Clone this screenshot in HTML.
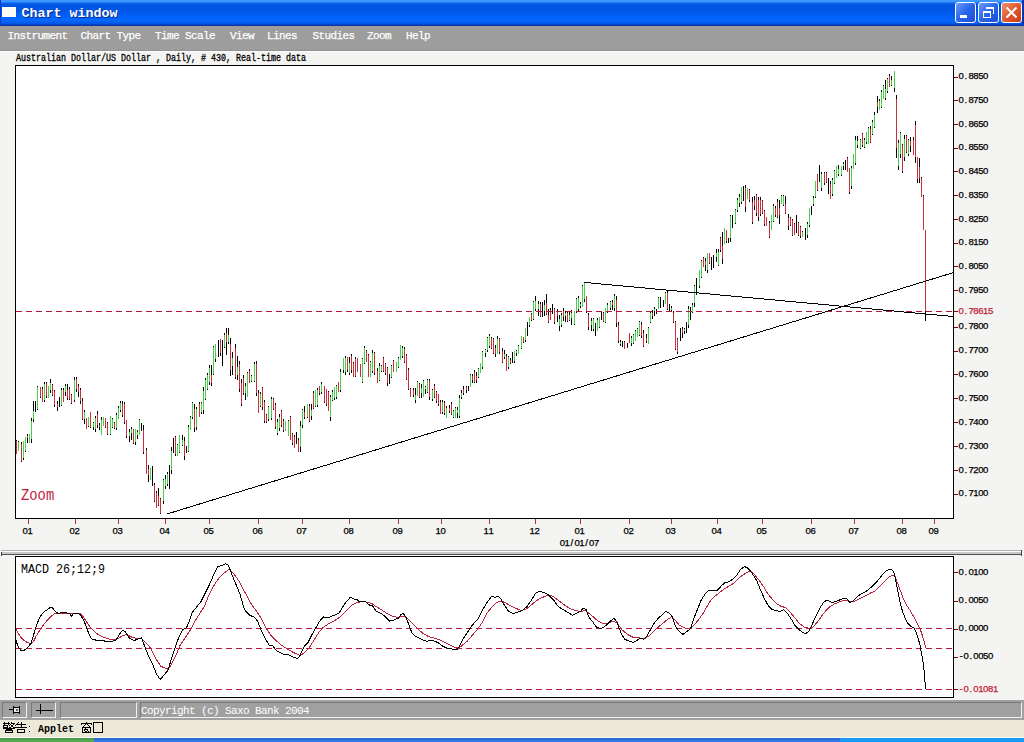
<!DOCTYPE html>
<html><head><meta charset="utf-8"><title>Chart window</title>
<style>
*{margin:0;padding:0;box-sizing:border-box}
html,body{width:1024px;height:742px;overflow:hidden;background:#f4f4f2;font-family:"Liberation Sans",sans-serif}
.abs{position:absolute}
#title{position:absolute;left:0;top:0;width:1024px;height:26px;
 background:linear-gradient(to bottom,#3c9aff 0px,#3a94fc 1.5px,#0a62ec 3.5px,#0056e2 5px,#0056e4 11px,#005ef6 15px,#0062ff 17px,#0868fa 20px,#0462f4 22px,#0052e0 24px,#0a34a8 25.2px,#0a34a8 26px)}
#ticon{position:absolute;left:2px;top:7px;width:14px;height:10px;background:#fdfdf6}
#ttext{position:absolute;left:21.5px;top:6px;font:bold 13.33px "Liberation Mono",monospace;color:#fff;text-shadow:1px 1px 0 #0a2a8a;letter-spacing:0px;white-space:nowrap}
.tb{position:absolute;top:2px;width:21px;height:21px;border:1px solid #fff;border-radius:3px}
#menu{position:absolute;left:0;top:26px;width:1024px;height:25px;background:#9d9d9d;border-bottom:1px solid #939393;box-shadow:0 1px 0 #fcfcfa}
.mi{position:absolute;top:4px;font:11px "Liberation Mono",monospace;color:#fff;white-space:nowrap;letter-spacing:-0.6px;-webkit-text-stroke:0.25px #fff}
#hdr{position:absolute;left:16px;top:54px;font:10px/10px "Liberation Mono",monospace;color:#000;white-space:nowrap;transform:scaleX(0.8333);transform-origin:0 0;-webkit-text-stroke:0.3px #000}
.ax{position:absolute;font:9.5px/12px "Liberation Sans",sans-serif;color:#000;white-space:nowrap;height:12px;-webkit-text-stroke:0.25px currentColor}
.ax i{position:absolute;top:0;font-style:normal;width:4.9px;text-align:center}
.mx{width:30px;text-align:center}
#macdt{position:absolute;left:21px;top:563.4px;font:13.5px/14px "Liberation Mono",monospace;color:#000;white-space:nowrap;transform:scaleX(0.864);transform-origin:0 0}
#zoom{position:absolute;left:21px;top:488px;font:16px/16px "Liberation Mono",monospace;color:#c01c3c;transform:scaleX(0.865);transform-origin:0 0}
#tool{position:absolute;left:0;top:700px;width:1024px;height:20px;background:#a0a0a0}
.btn{position:absolute;top:702px;height:16px;background:#a0a0a0;border:1px solid;border-color:#787878 #f0f0f0 #f0f0f0 #787878}
#status{position:absolute;left:0;top:720px;width:1024px;height:18px;background:#ece9d8;border-bottom:1px solid #fbfbf6}
#task{position:absolute;left:0;top:738px;width:1024px;height:4px;background:linear-gradient(to bottom,#2a62d0,#3a82e6)}
</style></head>
<body>
<div id="title"><div class="abs" style="left:0;top:0;width:1px;height:26px;background:#0a3cc8"></div><div class="abs" style="left:1022px;top:0;width:2px;height:26px;background:linear-gradient(to right,#0a40c0,#0a2c98)"></div><div id="ticon"></div><div id="ttext">Chart window</div>
<div class="tb" style="left:955px;background:linear-gradient(135deg,#6a9cf8,#2a64e8 50%,#1d50d8)"><div class="abs" style="left:4px;top:12px;width:7px;height:3px;background:#fff"></div></div>
<div class="tb" style="left:978px;background:linear-gradient(135deg,#6a9cf8,#2a64e8 50%,#1d50d8)"><div class="abs" style="left:4px;top:8px;width:8px;height:7px;border:1px solid #fff;border-top-width:2px"></div><div class="abs" style="left:7px;top:4px;width:8px;height:7px;border:1px solid #fff;border-top-width:2px;border-left:none;border-bottom:none"></div></div>
<div class="tb" style="left:1001px;background:linear-gradient(135deg,#f09070,#e05a30 50%,#c83c18)"><svg class="abs" style="left:3px;top:3px" width="14" height="14"><path d="M1.5 1.5 L11.5 11.5 M11.5 1.5 L1.5 11.5" stroke="#fff" stroke-width="2"/></svg></div>
</div>
<div id="menu">
<div class="mi" style="left:7.5px">Instrument</div>
<div class="mi" style="left:80.5px">Chart Type</div>
<div class="mi" style="left:155px">Time Scale</div>
<div class="mi" style="left:230px">View</div>
<div class="mi" style="left:267px">Lines</div>
<div class="mi" style="left:312.5px">Studies</div>
<div class="mi" style="left:367px">Zoom</div>
<div class="mi" style="left:406px">Help</div>
</div>
<div id="hdr">Australian Dollar/US Dollar , Daily, # 430, Real-time data</div>
<svg width="1024" height="742" viewBox="0 0 1024 742" style="position:absolute;left:0;top:0">
<rect x="15.5" y="65.5" width="938" height="453" fill="#fff" stroke="#000" stroke-width="1"/>
<rect x="15.5" y="556.5" width="938" height="141" fill="#fff" stroke="#000" stroke-width="1"/>
<g shape-rendering="crispEdges">
<rect x="16" y="440" width="1" height="14" fill="#000"/>
<rect x="16" y="441" width="1" height="13" fill="#c8303c"/>
<rect x="18" y="441" width="1" height="10" fill="#000"/>
<rect x="18" y="442" width="1" height="9" fill="#4ccf4c"/>
<rect x="21" y="442" width="1" height="20" fill="#000"/>
<rect x="21" y="444" width="1" height="17" fill="#c8303c"/>
<rect x="23" y="441" width="1" height="19" fill="#000"/>
<rect x="23" y="441" width="1" height="17" fill="#4ccf4c"/>
<rect x="25" y="437" width="1" height="15" fill="#000"/>
<rect x="25" y="437" width="1" height="14" fill="#4ccf4c"/>
<rect x="27" y="434" width="1" height="9" fill="#000"/>
<rect x="27" y="436" width="1" height="2" fill="#c8303c"/>
<rect x="29" y="434" width="1" height="9" fill="#000"/>
<rect x="29" y="434" width="1" height="9" fill="#4ccf4c"/>
<rect x="31" y="418" width="1" height="25" fill="#000"/>
<rect x="31" y="421" width="1" height="18" fill="#4ccf4c"/>
<rect x="33" y="401" width="1" height="21" fill="#000"/>
<rect x="33" y="411" width="1" height="8" fill="#4ccf4c"/>
<rect x="35" y="401" width="1" height="11" fill="#000"/>
<rect x="37" y="386" width="1" height="24" fill="#000"/>
<rect x="37" y="387" width="1" height="22" fill="#4ccf4c"/>
<rect x="40" y="387" width="1" height="11" fill="#000"/>
<rect x="40" y="387" width="1" height="10" fill="#c8303c"/>
<rect x="42" y="387" width="1" height="15" fill="#000"/>
<rect x="42" y="389" width="1" height="13" fill="#c8303c"/>
<rect x="44" y="382" width="1" height="20" fill="#000"/>
<rect x="44" y="384" width="1" height="16" fill="#4ccf4c"/>
<rect x="46" y="382" width="1" height="16" fill="#000"/>
<rect x="46" y="383" width="1" height="13" fill="#c8303c"/>
<rect x="48" y="386" width="1" height="12" fill="#000"/>
<rect x="48" y="386" width="1" height="12" fill="#4ccf4c"/>
<rect x="50" y="379" width="1" height="14" fill="#000"/>
<rect x="50" y="383" width="1" height="7" fill="#4ccf4c"/>
<rect x="52" y="384" width="1" height="12" fill="#000"/>
<rect x="52" y="385" width="1" height="10" fill="#c8303c"/>
<rect x="54" y="390" width="1" height="17" fill="#000"/>
<rect x="54" y="391" width="1" height="14" fill="#c8303c"/>
<rect x="57" y="401" width="1" height="10" fill="#000"/>
<rect x="57" y="404" width="1" height="3" fill="#c8303c"/>
<rect x="59" y="397" width="1" height="10" fill="#000"/>
<rect x="61" y="388" width="1" height="18" fill="#000"/>
<rect x="61" y="390" width="1" height="15" fill="#4ccf4c"/>
<rect x="63" y="388" width="1" height="14" fill="#000"/>
<rect x="63" y="390" width="1" height="12" fill="#c8303c"/>
<rect x="65" y="384" width="1" height="12" fill="#000"/>
<rect x="65" y="386" width="1" height="6" fill="#4ccf4c"/>
<rect x="67" y="384" width="1" height="16" fill="#000"/>
<rect x="67" y="390" width="1" height="8" fill="#c8303c"/>
<rect x="69" y="387" width="1" height="13" fill="#000"/>
<rect x="69" y="389" width="1" height="10" fill="#c8303c"/>
<rect x="71" y="394" width="1" height="10" fill="#000"/>
<rect x="71" y="395" width="1" height="8" fill="#c8303c"/>
<rect x="74" y="377" width="1" height="25" fill="#000"/>
<rect x="74" y="380" width="1" height="20" fill="#4ccf4c"/>
<rect x="76" y="377" width="1" height="15" fill="#000"/>
<rect x="76" y="379" width="1" height="10" fill="#c8303c"/>
<rect x="78" y="384" width="1" height="13" fill="#000"/>
<rect x="78" y="386" width="1" height="6" fill="#c8303c"/>
<rect x="80" y="388" width="1" height="16" fill="#000"/>
<rect x="80" y="390" width="1" height="11" fill="#c8303c"/>
<rect x="82" y="398" width="1" height="22" fill="#000"/>
<rect x="82" y="401" width="1" height="18" fill="#c8303c"/>
<rect x="84" y="410" width="1" height="14" fill="#000"/>
<rect x="84" y="412" width="1" height="7" fill="#4ccf4c"/>
<rect x="86" y="418" width="1" height="11" fill="#000"/>
<rect x="86" y="418" width="1" height="11" fill="#c8303c"/>
<rect x="88" y="417" width="1" height="10" fill="#000"/>
<rect x="88" y="417" width="1" height="9" fill="#4ccf4c"/>
<rect x="90" y="412" width="1" height="16" fill="#000"/>
<rect x="90" y="412" width="1" height="15" fill="#c8303c"/>
<rect x="93" y="422" width="1" height="8" fill="#000"/>
<rect x="93" y="423" width="1" height="4" fill="#4ccf4c"/>
<rect x="95" y="416" width="1" height="16" fill="#000"/>
<rect x="95" y="418" width="1" height="11" fill="#4ccf4c"/>
<rect x="97" y="411" width="1" height="17" fill="#000"/>
<rect x="97" y="414" width="1" height="11" fill="#c8303c"/>
<rect x="99" y="423" width="1" height="7" fill="#000"/>
<rect x="99" y="425" width="1" height="2" fill="#c8303c"/>
<rect x="101" y="417" width="1" height="18" fill="#000"/>
<rect x="101" y="420" width="1" height="15" fill="#4ccf4c"/>
<rect x="103" y="417" width="1" height="9" fill="#000"/>
<rect x="103" y="417" width="1" height="9" fill="#4ccf4c"/>
<rect x="105" y="418" width="1" height="10" fill="#000"/>
<rect x="105" y="418" width="1" height="9" fill="#c8303c"/>
<rect x="107" y="422" width="1" height="13" fill="#000"/>
<rect x="107" y="423" width="1" height="11" fill="#c8303c"/>
<rect x="110" y="416" width="1" height="19" fill="#000"/>
<rect x="110" y="416" width="1" height="18" fill="#4ccf4c"/>
<rect x="112" y="418" width="1" height="10" fill="#000"/>
<rect x="112" y="419" width="1" height="8" fill="#4ccf4c"/>
<rect x="114" y="422" width="1" height="7" fill="#000"/>
<rect x="114" y="423" width="1" height="5" fill="#c8303c"/>
<rect x="116" y="413" width="1" height="17" fill="#000"/>
<rect x="116" y="415" width="1" height="13" fill="#4ccf4c"/>
<rect x="118" y="406" width="1" height="13" fill="#000"/>
<rect x="118" y="408" width="1" height="11" fill="#4ccf4c"/>
<rect x="120" y="401" width="1" height="11" fill="#000"/>
<rect x="120" y="403" width="1" height="7" fill="#4ccf4c"/>
<rect x="122" y="401" width="1" height="16" fill="#000"/>
<rect x="122" y="404" width="1" height="11" fill="#c8303c"/>
<rect x="124" y="402" width="1" height="22" fill="#000"/>
<rect x="124" y="404" width="1" height="18" fill="#c8303c"/>
<rect x="126" y="420" width="1" height="18" fill="#000"/>
<rect x="126" y="420" width="1" height="16" fill="#c8303c"/>
<rect x="129" y="429" width="1" height="13" fill="#000"/>
<rect x="129" y="432" width="1" height="4" fill="#4ccf4c"/>
<rect x="131" y="427" width="1" height="13" fill="#000"/>
<rect x="131" y="429" width="1" height="4" fill="#4ccf4c"/>
<rect x="133" y="429" width="1" height="15" fill="#000"/>
<rect x="133" y="429" width="1" height="14" fill="#c8303c"/>
<rect x="135" y="429" width="1" height="16" fill="#000"/>
<rect x="135" y="429" width="1" height="13" fill="#4ccf4c"/>
<rect x="137" y="430" width="1" height="9" fill="#000"/>
<rect x="137" y="432" width="1" height="3" fill="#4ccf4c"/>
<rect x="139" y="419" width="1" height="16" fill="#000"/>
<rect x="139" y="420" width="1" height="15" fill="#4ccf4c"/>
<rect x="141" y="423" width="1" height="8" fill="#000"/>
<rect x="143" y="425" width="1" height="29" fill="#000"/>
<rect x="143" y="430" width="1" height="22" fill="#c8303c"/>
<rect x="146" y="448" width="1" height="26" fill="#000"/>
<rect x="146" y="450" width="1" height="24" fill="#c8303c"/>
<rect x="148" y="465" width="1" height="17" fill="#000"/>
<rect x="148" y="469" width="1" height="6" fill="#c8303c"/>
<rect x="150" y="468" width="1" height="12" fill="#000"/>
<rect x="150" y="468" width="1" height="12" fill="#4ccf4c"/>
<rect x="152" y="466" width="1" height="20" fill="#000"/>
<rect x="154" y="483" width="1" height="19" fill="#000"/>
<rect x="154" y="485" width="1" height="16" fill="#c8303c"/>
<rect x="156" y="491" width="1" height="17" fill="#000"/>
<rect x="156" y="493" width="1" height="15" fill="#c8303c"/>
<rect x="158" y="488" width="1" height="18" fill="#000"/>
<rect x="158" y="496" width="1" height="9" fill="#c8303c"/>
<rect x="160" y="498" width="1" height="16" fill="#000"/>
<rect x="160" y="499" width="1" height="14" fill="#c8303c"/>
<rect x="163" y="479" width="1" height="25" fill="#000"/>
<rect x="163" y="480" width="1" height="21" fill="#4ccf4c"/>
<rect x="165" y="475" width="1" height="14" fill="#000"/>
<rect x="165" y="479" width="1" height="7" fill="#4ccf4c"/>
<rect x="167" y="472" width="1" height="14" fill="#000"/>
<rect x="167" y="474" width="1" height="10" fill="#4ccf4c"/>
<rect x="169" y="465" width="1" height="24" fill="#000"/>
<rect x="171" y="447" width="1" height="27" fill="#000"/>
<rect x="171" y="451" width="1" height="19" fill="#4ccf4c"/>
<rect x="173" y="438" width="1" height="15" fill="#000"/>
<rect x="175" y="436" width="1" height="20" fill="#000"/>
<rect x="175" y="437" width="1" height="17" fill="#c8303c"/>
<rect x="177" y="444" width="1" height="12" fill="#000"/>
<rect x="177" y="445" width="1" height="11" fill="#4ccf4c"/>
<rect x="179" y="435" width="1" height="18" fill="#000"/>
<rect x="179" y="435" width="1" height="17" fill="#4ccf4c"/>
<rect x="182" y="435" width="1" height="11" fill="#000"/>
<rect x="182" y="440" width="1" height="5" fill="#4ccf4c"/>
<rect x="184" y="437" width="1" height="23" fill="#000"/>
<rect x="184" y="441" width="1" height="15" fill="#c8303c"/>
<rect x="186" y="446" width="1" height="7" fill="#000"/>
<rect x="188" y="425" width="1" height="27" fill="#000"/>
<rect x="188" y="427" width="1" height="24" fill="#4ccf4c"/>
<rect x="190" y="416" width="1" height="14" fill="#000"/>
<rect x="190" y="417" width="1" height="13" fill="#4ccf4c"/>
<rect x="192" y="402" width="1" height="17" fill="#000"/>
<rect x="192" y="403" width="1" height="14" fill="#4ccf4c"/>
<rect x="194" y="404" width="1" height="28" fill="#000"/>
<rect x="194" y="409" width="1" height="19" fill="#c8303c"/>
<rect x="196" y="407" width="1" height="23" fill="#000"/>
<rect x="196" y="409" width="1" height="18" fill="#4ccf4c"/>
<rect x="199" y="402" width="1" height="15" fill="#000"/>
<rect x="199" y="404" width="1" height="13" fill="#c8303c"/>
<rect x="201" y="402" width="1" height="12" fill="#000"/>
<rect x="201" y="403" width="1" height="9" fill="#4ccf4c"/>
<rect x="203" y="387" width="1" height="27" fill="#000"/>
<rect x="203" y="391" width="1" height="19" fill="#4ccf4c"/>
<rect x="205" y="378" width="1" height="22" fill="#000"/>
<rect x="205" y="380" width="1" height="19" fill="#4ccf4c"/>
<rect x="207" y="373" width="1" height="17" fill="#000"/>
<rect x="207" y="375" width="1" height="14" fill="#4ccf4c"/>
<rect x="209" y="365" width="1" height="20" fill="#000"/>
<rect x="209" y="368" width="1" height="14" fill="#4ccf4c"/>
<rect x="211" y="365" width="1" height="21" fill="#000"/>
<rect x="211" y="375" width="1" height="8" fill="#c8303c"/>
<rect x="213" y="346" width="1" height="29" fill="#000"/>
<rect x="213" y="347" width="1" height="27" fill="#4ccf4c"/>
<rect x="215" y="344" width="1" height="18" fill="#000"/>
<rect x="215" y="344" width="1" height="15" fill="#4ccf4c"/>
<rect x="218" y="340" width="1" height="17" fill="#000"/>
<rect x="220" y="339" width="1" height="17" fill="#000"/>
<rect x="220" y="339" width="1" height="14" fill="#c8303c"/>
<rect x="222" y="340" width="1" height="26" fill="#000"/>
<rect x="224" y="333" width="1" height="15" fill="#000"/>
<rect x="224" y="335" width="1" height="12" fill="#4ccf4c"/>
<rect x="226" y="328" width="1" height="27" fill="#000"/>
<rect x="226" y="333" width="1" height="9" fill="#c8303c"/>
<rect x="228" y="328" width="1" height="16" fill="#000"/>
<rect x="228" y="335" width="1" height="7" fill="#4ccf4c"/>
<rect x="230" y="338" width="1" height="38" fill="#000"/>
<rect x="230" y="344" width="1" height="26" fill="#c8303c"/>
<rect x="232" y="352" width="1" height="23" fill="#000"/>
<rect x="232" y="358" width="1" height="8" fill="#4ccf4c"/>
<rect x="235" y="344" width="1" height="35" fill="#000"/>
<rect x="235" y="348" width="1" height="29" fill="#c8303c"/>
<rect x="237" y="356" width="1" height="24" fill="#000"/>
<rect x="237" y="367" width="1" height="8" fill="#4ccf4c"/>
<rect x="239" y="361" width="1" height="31" fill="#000"/>
<rect x="239" y="364" width="1" height="25" fill="#c8303c"/>
<rect x="241" y="379" width="1" height="27" fill="#000"/>
<rect x="241" y="383" width="1" height="21" fill="#c8303c"/>
<rect x="243" y="375" width="1" height="20" fill="#000"/>
<rect x="243" y="378" width="1" height="15" fill="#c8303c"/>
<rect x="245" y="383" width="1" height="17" fill="#000"/>
<rect x="245" y="386" width="1" height="7" fill="#4ccf4c"/>
<rect x="247" y="372" width="1" height="25" fill="#000"/>
<rect x="247" y="373" width="1" height="24" fill="#4ccf4c"/>
<rect x="249" y="369" width="1" height="14" fill="#000"/>
<rect x="249" y="371" width="1" height="12" fill="#c8303c"/>
<rect x="251" y="375" width="1" height="7" fill="#000"/>
<rect x="251" y="376" width="1" height="5" fill="#4ccf4c"/>
<rect x="254" y="362" width="1" height="20" fill="#000"/>
<rect x="254" y="364" width="1" height="17" fill="#4ccf4c"/>
<rect x="256" y="361" width="1" height="35" fill="#000"/>
<rect x="256" y="364" width="1" height="29" fill="#c8303c"/>
<rect x="258" y="390" width="1" height="23" fill="#000"/>
<rect x="258" y="393" width="1" height="20" fill="#c8303c"/>
<rect x="260" y="392" width="1" height="15" fill="#000"/>
<rect x="260" y="394" width="1" height="12" fill="#4ccf4c"/>
<rect x="262" y="387" width="1" height="23" fill="#000"/>
<rect x="262" y="388" width="1" height="19" fill="#c8303c"/>
<rect x="264" y="400" width="1" height="23" fill="#000"/>
<rect x="264" y="402" width="1" height="19" fill="#c8303c"/>
<rect x="266" y="414" width="1" height="9" fill="#000"/>
<rect x="266" y="415" width="1" height="7" fill="#c8303c"/>
<rect x="268" y="406" width="1" height="15" fill="#000"/>
<rect x="268" y="407" width="1" height="12" fill="#4ccf4c"/>
<rect x="271" y="397" width="1" height="23" fill="#000"/>
<rect x="271" y="399" width="1" height="19" fill="#4ccf4c"/>
<rect x="273" y="398" width="1" height="12" fill="#000"/>
<rect x="273" y="399" width="1" height="10" fill="#c8303c"/>
<rect x="275" y="403" width="1" height="26" fill="#000"/>
<rect x="275" y="405" width="1" height="22" fill="#c8303c"/>
<rect x="277" y="419" width="1" height="16" fill="#000"/>
<rect x="277" y="422" width="1" height="11" fill="#4ccf4c"/>
<rect x="279" y="414" width="1" height="17" fill="#000"/>
<rect x="279" y="417" width="1" height="11" fill="#4ccf4c"/>
<rect x="281" y="410" width="1" height="17" fill="#000"/>
<rect x="281" y="411" width="1" height="14" fill="#c8303c"/>
<rect x="283" y="419" width="1" height="13" fill="#000"/>
<rect x="283" y="421" width="1" height="9" fill="#c8303c"/>
<rect x="285" y="421" width="1" height="10" fill="#000"/>
<rect x="285" y="421" width="1" height="10" fill="#4ccf4c"/>
<rect x="288" y="420" width="1" height="16" fill="#000"/>
<rect x="288" y="421" width="1" height="15" fill="#4ccf4c"/>
<rect x="290" y="416" width="1" height="24" fill="#000"/>
<rect x="290" y="417" width="1" height="23" fill="#c8303c"/>
<rect x="292" y="433" width="1" height="12" fill="#000"/>
<rect x="292" y="434" width="1" height="9" fill="#c8303c"/>
<rect x="294" y="435" width="1" height="13" fill="#000"/>
<rect x="294" y="437" width="1" height="11" fill="#c8303c"/>
<rect x="296" y="432" width="1" height="12" fill="#000"/>
<rect x="298" y="438" width="1" height="14" fill="#000"/>
<rect x="298" y="440" width="1" height="12" fill="#c8303c"/>
<rect x="300" y="421" width="1" height="31" fill="#000"/>
<rect x="300" y="426" width="1" height="21" fill="#4ccf4c"/>
<rect x="302" y="409" width="1" height="19" fill="#000"/>
<rect x="302" y="410" width="1" height="15" fill="#4ccf4c"/>
<rect x="304" y="406" width="1" height="13" fill="#000"/>
<rect x="304" y="412" width="1" height="5" fill="#c8303c"/>
<rect x="307" y="404" width="1" height="14" fill="#000"/>
<rect x="307" y="404" width="1" height="13" fill="#4ccf4c"/>
<rect x="309" y="404" width="1" height="18" fill="#000"/>
<rect x="309" y="406" width="1" height="15" fill="#c8303c"/>
<rect x="311" y="404" width="1" height="16" fill="#000"/>
<rect x="311" y="410" width="1" height="6" fill="#4ccf4c"/>
<rect x="313" y="391" width="1" height="18" fill="#000"/>
<rect x="313" y="393" width="1" height="15" fill="#c8303c"/>
<rect x="315" y="390" width="1" height="17" fill="#000"/>
<rect x="315" y="390" width="1" height="16" fill="#4ccf4c"/>
<rect x="317" y="388" width="1" height="19" fill="#000"/>
<rect x="317" y="390" width="1" height="15" fill="#4ccf4c"/>
<rect x="319" y="386" width="1" height="9" fill="#000"/>
<rect x="319" y="386" width="1" height="7" fill="#c8303c"/>
<rect x="321" y="382" width="1" height="12" fill="#000"/>
<rect x="321" y="384" width="1" height="8" fill="#4ccf4c"/>
<rect x="324" y="386" width="1" height="17" fill="#000"/>
<rect x="324" y="386" width="1" height="16" fill="#c8303c"/>
<rect x="326" y="389" width="1" height="17" fill="#000"/>
<rect x="326" y="389" width="1" height="15" fill="#c8303c"/>
<rect x="328" y="391" width="1" height="20" fill="#000"/>
<rect x="328" y="392" width="1" height="19" fill="#c8303c"/>
<rect x="330" y="395" width="1" height="26" fill="#000"/>
<rect x="330" y="397" width="1" height="20" fill="#4ccf4c"/>
<rect x="332" y="390" width="1" height="11" fill="#000"/>
<rect x="332" y="392" width="1" height="8" fill="#4ccf4c"/>
<rect x="334" y="387" width="1" height="13" fill="#000"/>
<rect x="334" y="387" width="1" height="11" fill="#4ccf4c"/>
<rect x="336" y="385" width="1" height="14" fill="#000"/>
<rect x="336" y="386" width="1" height="11" fill="#4ccf4c"/>
<rect x="338" y="382" width="1" height="10" fill="#000"/>
<rect x="338" y="382" width="1" height="10" fill="#c8303c"/>
<rect x="340" y="369" width="1" height="23" fill="#000"/>
<rect x="340" y="372" width="1" height="18" fill="#4ccf4c"/>
<rect x="343" y="358" width="1" height="15" fill="#000"/>
<rect x="343" y="358" width="1" height="12" fill="#4ccf4c"/>
<rect x="345" y="356" width="1" height="19" fill="#000"/>
<rect x="345" y="358" width="1" height="14" fill="#4ccf4c"/>
<rect x="347" y="357" width="1" height="15" fill="#000"/>
<rect x="347" y="357" width="1" height="13" fill="#c8303c"/>
<rect x="349" y="357" width="1" height="18" fill="#000"/>
<rect x="349" y="363" width="1" height="10" fill="#4ccf4c"/>
<rect x="351" y="354" width="1" height="19" fill="#000"/>
<rect x="351" y="356" width="1" height="14" fill="#c8303c"/>
<rect x="353" y="362" width="1" height="15" fill="#000"/>
<rect x="353" y="363" width="1" height="14" fill="#c8303c"/>
<rect x="355" y="357" width="1" height="20" fill="#000"/>
<rect x="355" y="359" width="1" height="17" fill="#c8303c"/>
<rect x="357" y="358" width="1" height="14" fill="#000"/>
<rect x="357" y="358" width="1" height="14" fill="#c8303c"/>
<rect x="360" y="364" width="1" height="13" fill="#000"/>
<rect x="360" y="364" width="1" height="13" fill="#c8303c"/>
<rect x="362" y="358" width="1" height="25" fill="#000"/>
<rect x="362" y="359" width="1" height="23" fill="#4ccf4c"/>
<rect x="364" y="346" width="1" height="18" fill="#000"/>
<rect x="364" y="348" width="1" height="15" fill="#4ccf4c"/>
<rect x="366" y="350" width="1" height="12" fill="#000"/>
<rect x="366" y="351" width="1" height="11" fill="#c8303c"/>
<rect x="368" y="354" width="1" height="23" fill="#000"/>
<rect x="368" y="355" width="1" height="22" fill="#c8303c"/>
<rect x="370" y="361" width="1" height="16" fill="#000"/>
<rect x="370" y="362" width="1" height="15" fill="#4ccf4c"/>
<rect x="372" y="350" width="1" height="23" fill="#000"/>
<rect x="372" y="353" width="1" height="18" fill="#4ccf4c"/>
<rect x="374" y="352" width="1" height="23" fill="#000"/>
<rect x="374" y="353" width="1" height="20" fill="#c8303c"/>
<rect x="377" y="368" width="1" height="15" fill="#000"/>
<rect x="377" y="371" width="1" height="12" fill="#c8303c"/>
<rect x="379" y="363" width="1" height="18" fill="#000"/>
<rect x="379" y="366" width="1" height="14" fill="#4ccf4c"/>
<rect x="381" y="365" width="1" height="7" fill="#000"/>
<rect x="381" y="366" width="1" height="5" fill="#4ccf4c"/>
<rect x="383" y="357" width="1" height="15" fill="#000"/>
<rect x="383" y="358" width="1" height="13" fill="#c8303c"/>
<rect x="385" y="363" width="1" height="12" fill="#000"/>
<rect x="385" y="364" width="1" height="9" fill="#c8303c"/>
<rect x="387" y="367" width="1" height="19" fill="#000"/>
<rect x="387" y="368" width="1" height="15" fill="#c8303c"/>
<rect x="389" y="374" width="1" height="10" fill="#000"/>
<rect x="391" y="365" width="1" height="13" fill="#000"/>
<rect x="391" y="366" width="1" height="11" fill="#4ccf4c"/>
<rect x="393" y="360" width="1" height="12" fill="#000"/>
<rect x="393" y="361" width="1" height="11" fill="#c8303c"/>
<rect x="396" y="362" width="1" height="10" fill="#000"/>
<rect x="396" y="362" width="1" height="10" fill="#4ccf4c"/>
<rect x="398" y="357" width="1" height="11" fill="#000"/>
<rect x="398" y="358" width="1" height="9" fill="#4ccf4c"/>
<rect x="400" y="345" width="1" height="15" fill="#000"/>
<rect x="400" y="345" width="1" height="15" fill="#4ccf4c"/>
<rect x="402" y="346" width="1" height="12" fill="#000"/>
<rect x="402" y="348" width="1" height="8" fill="#4ccf4c"/>
<rect x="404" y="347" width="1" height="16" fill="#000"/>
<rect x="404" y="349" width="1" height="13" fill="#c8303c"/>
<rect x="406" y="354" width="1" height="26" fill="#000"/>
<rect x="406" y="355" width="1" height="24" fill="#c8303c"/>
<rect x="408" y="368" width="1" height="22" fill="#000"/>
<rect x="408" y="370" width="1" height="19" fill="#c8303c"/>
<rect x="410" y="388" width="1" height="9" fill="#000"/>
<rect x="410" y="389" width="1" height="8" fill="#c8303c"/>
<rect x="413" y="388" width="1" height="9" fill="#000"/>
<rect x="413" y="390" width="1" height="5" fill="#c8303c"/>
<rect x="415" y="388" width="1" height="15" fill="#000"/>
<rect x="415" y="395" width="1" height="5" fill="#4ccf4c"/>
<rect x="417" y="381" width="1" height="15" fill="#000"/>
<rect x="417" y="382" width="1" height="14" fill="#4ccf4c"/>
<rect x="419" y="383" width="1" height="15" fill="#000"/>
<rect x="419" y="384" width="1" height="13" fill="#c8303c"/>
<rect x="421" y="384" width="1" height="14" fill="#000"/>
<rect x="421" y="388" width="1" height="5" fill="#4ccf4c"/>
<rect x="423" y="380" width="1" height="17" fill="#000"/>
<rect x="423" y="381" width="1" height="16" fill="#4ccf4c"/>
<rect x="425" y="386" width="1" height="8" fill="#000"/>
<rect x="425" y="387" width="1" height="2" fill="#4ccf4c"/>
<rect x="427" y="379" width="1" height="14" fill="#000"/>
<rect x="427" y="380" width="1" height="12" fill="#4ccf4c"/>
<rect x="429" y="379" width="1" height="21" fill="#000"/>
<rect x="429" y="381" width="1" height="16" fill="#c8303c"/>
<rect x="432" y="389" width="1" height="12" fill="#000"/>
<rect x="432" y="390" width="1" height="9" fill="#4ccf4c"/>
<rect x="434" y="384" width="1" height="14" fill="#000"/>
<rect x="434" y="386" width="1" height="11" fill="#c8303c"/>
<rect x="436" y="391" width="1" height="12" fill="#000"/>
<rect x="436" y="392" width="1" height="9" fill="#c8303c"/>
<rect x="438" y="394" width="1" height="12" fill="#000"/>
<rect x="438" y="394" width="1" height="10" fill="#c8303c"/>
<rect x="440" y="400" width="1" height="14" fill="#000"/>
<rect x="440" y="402" width="1" height="12" fill="#c8303c"/>
<rect x="442" y="400" width="1" height="14" fill="#000"/>
<rect x="442" y="402" width="1" height="10" fill="#4ccf4c"/>
<rect x="444" y="401" width="1" height="14" fill="#000"/>
<rect x="444" y="403" width="1" height="10" fill="#c8303c"/>
<rect x="446" y="406" width="1" height="12" fill="#000"/>
<rect x="446" y="408" width="1" height="10" fill="#4ccf4c"/>
<rect x="449" y="405" width="1" height="8" fill="#000"/>
<rect x="449" y="408" width="1" height="3" fill="#c8303c"/>
<rect x="451" y="402" width="1" height="13" fill="#000"/>
<rect x="451" y="404" width="1" height="10" fill="#c8303c"/>
<rect x="453" y="410" width="1" height="8" fill="#000"/>
<rect x="453" y="411" width="1" height="6" fill="#4ccf4c"/>
<rect x="455" y="407" width="1" height="11" fill="#000"/>
<rect x="455" y="408" width="1" height="10" fill="#4ccf4c"/>
<rect x="457" y="407" width="1" height="11" fill="#000"/>
<rect x="457" y="410" width="1" height="3" fill="#4ccf4c"/>
<rect x="459" y="395" width="1" height="23" fill="#000"/>
<rect x="459" y="398" width="1" height="18" fill="#4ccf4c"/>
<rect x="461" y="390" width="1" height="9" fill="#000"/>
<rect x="461" y="393" width="1" height="4" fill="#4ccf4c"/>
<rect x="463" y="386" width="1" height="9" fill="#000"/>
<rect x="463" y="389" width="1" height="4" fill="#c8303c"/>
<rect x="466" y="386" width="1" height="7" fill="#000"/>
<rect x="466" y="387" width="1" height="3" fill="#c8303c"/>
<rect x="468" y="386" width="1" height="5" fill="#000"/>
<rect x="470" y="374" width="1" height="13" fill="#000"/>
<rect x="470" y="375" width="1" height="12" fill="#4ccf4c"/>
<rect x="472" y="374" width="1" height="9" fill="#000"/>
<rect x="472" y="376" width="1" height="4" fill="#c8303c"/>
<rect x="474" y="370" width="1" height="13" fill="#000"/>
<rect x="474" y="372" width="1" height="10" fill="#c8303c"/>
<rect x="476" y="372" width="1" height="11" fill="#000"/>
<rect x="476" y="376" width="1" height="4" fill="#c8303c"/>
<rect x="478" y="368" width="1" height="10" fill="#000"/>
<rect x="478" y="369" width="1" height="8" fill="#4ccf4c"/>
<rect x="480" y="363" width="1" height="10" fill="#000"/>
<rect x="480" y="363" width="1" height="10" fill="#4ccf4c"/>
<rect x="482" y="351" width="1" height="18" fill="#000"/>
<rect x="482" y="352" width="1" height="15" fill="#4ccf4c"/>
<rect x="485" y="349" width="1" height="8" fill="#000"/>
<rect x="485" y="350" width="1" height="3" fill="#4ccf4c"/>
<rect x="487" y="337" width="1" height="15" fill="#000"/>
<rect x="487" y="338" width="1" height="12" fill="#4ccf4c"/>
<rect x="489" y="334" width="1" height="14" fill="#000"/>
<rect x="489" y="336" width="1" height="10" fill="#4ccf4c"/>
<rect x="491" y="337" width="1" height="12" fill="#000"/>
<rect x="491" y="338" width="1" height="10" fill="#c8303c"/>
<rect x="493" y="338" width="1" height="16" fill="#000"/>
<rect x="493" y="339" width="1" height="14" fill="#c8303c"/>
<rect x="495" y="345" width="1" height="12" fill="#000"/>
<rect x="495" y="348" width="1" height="6" fill="#c8303c"/>
<rect x="497" y="336" width="1" height="18" fill="#000"/>
<rect x="497" y="339" width="1" height="15" fill="#4ccf4c"/>
<rect x="499" y="338" width="1" height="16" fill="#000"/>
<rect x="499" y="339" width="1" height="13" fill="#c8303c"/>
<rect x="502" y="348" width="1" height="15" fill="#000"/>
<rect x="502" y="351" width="1" height="11" fill="#c8303c"/>
<rect x="504" y="350" width="1" height="9" fill="#000"/>
<rect x="504" y="354" width="1" height="3" fill="#4ccf4c"/>
<rect x="506" y="354" width="1" height="17" fill="#000"/>
<rect x="506" y="356" width="1" height="15" fill="#c8303c"/>
<rect x="508" y="356" width="1" height="13" fill="#000"/>
<rect x="508" y="357" width="1" height="10" fill="#4ccf4c"/>
<rect x="510" y="358" width="1" height="6" fill="#000"/>
<rect x="510" y="360" width="1" height="3" fill="#c8303c"/>
<rect x="512" y="352" width="1" height="11" fill="#000"/>
<rect x="514" y="351" width="1" height="12" fill="#000"/>
<rect x="514" y="351" width="1" height="10" fill="#4ccf4c"/>
<rect x="516" y="350" width="1" height="6" fill="#000"/>
<rect x="516" y="351" width="1" height="2" fill="#4ccf4c"/>
<rect x="518" y="345" width="1" height="9" fill="#000"/>
<rect x="518" y="346" width="1" height="8" fill="#4ccf4c"/>
<rect x="521" y="336" width="1" height="13" fill="#000"/>
<rect x="521" y="336" width="1" height="12" fill="#4ccf4c"/>
<rect x="523" y="337" width="1" height="6" fill="#000"/>
<rect x="523" y="337" width="1" height="5" fill="#c8303c"/>
<rect x="525" y="328" width="1" height="14" fill="#000"/>
<rect x="525" y="328" width="1" height="12" fill="#4ccf4c"/>
<rect x="527" y="322" width="1" height="14" fill="#000"/>
<rect x="529" y="317" width="1" height="10" fill="#000"/>
<rect x="529" y="317" width="1" height="8" fill="#4ccf4c"/>
<rect x="531" y="313" width="1" height="8" fill="#000"/>
<rect x="531" y="314" width="1" height="6" fill="#c8303c"/>
<rect x="533" y="301" width="1" height="19" fill="#000"/>
<rect x="533" y="302" width="1" height="17" fill="#4ccf4c"/>
<rect x="535" y="296" width="1" height="15" fill="#000"/>
<rect x="535" y="301" width="1" height="8" fill="#4ccf4c"/>
<rect x="538" y="301" width="1" height="15" fill="#000"/>
<rect x="538" y="304" width="1" height="5" fill="#4ccf4c"/>
<rect x="540" y="302" width="1" height="15" fill="#000"/>
<rect x="540" y="304" width="1" height="12" fill="#c8303c"/>
<rect x="542" y="302" width="1" height="15" fill="#000"/>
<rect x="544" y="300" width="1" height="16" fill="#000"/>
<rect x="544" y="305" width="1" height="6" fill="#4ccf4c"/>
<rect x="546" y="294" width="1" height="21" fill="#000"/>
<rect x="546" y="303" width="1" height="11" fill="#c8303c"/>
<rect x="548" y="309" width="1" height="14" fill="#000"/>
<rect x="548" y="315" width="1" height="7" fill="#c8303c"/>
<rect x="550" y="308" width="1" height="12" fill="#000"/>
<rect x="550" y="310" width="1" height="10" fill="#c8303c"/>
<rect x="552" y="304" width="1" height="10" fill="#000"/>
<rect x="554" y="308" width="1" height="16" fill="#000"/>
<rect x="554" y="309" width="1" height="13" fill="#c8303c"/>
<rect x="557" y="309" width="1" height="13" fill="#000"/>
<rect x="557" y="311" width="1" height="5" fill="#c8303c"/>
<rect x="559" y="315" width="1" height="16" fill="#000"/>
<rect x="559" y="319" width="1" height="7" fill="#4ccf4c"/>
<rect x="561" y="313" width="1" height="14" fill="#000"/>
<rect x="561" y="315" width="1" height="10" fill="#4ccf4c"/>
<rect x="563" y="308" width="1" height="13" fill="#000"/>
<rect x="563" y="311" width="1" height="6" fill="#c8303c"/>
<rect x="565" y="311" width="1" height="11" fill="#000"/>
<rect x="565" y="313" width="1" height="3" fill="#4ccf4c"/>
<rect x="567" y="311" width="1" height="11" fill="#000"/>
<rect x="567" y="313" width="1" height="8" fill="#c8303c"/>
<rect x="569" y="311" width="1" height="10" fill="#000"/>
<rect x="569" y="315" width="1" height="5" fill="#4ccf4c"/>
<rect x="571" y="310" width="1" height="15" fill="#000"/>
<rect x="571" y="313" width="1" height="5" fill="#4ccf4c"/>
<rect x="574" y="311" width="1" height="14" fill="#000"/>
<rect x="574" y="311" width="1" height="13" fill="#4ccf4c"/>
<rect x="576" y="298" width="1" height="15" fill="#000"/>
<rect x="576" y="299" width="1" height="12" fill="#4ccf4c"/>
<rect x="578" y="296" width="1" height="15" fill="#000"/>
<rect x="578" y="298" width="1" height="11" fill="#4ccf4c"/>
<rect x="580" y="302" width="1" height="6" fill="#000"/>
<rect x="580" y="304" width="1" height="2" fill="#4ccf4c"/>
<rect x="582" y="285" width="1" height="22" fill="#000"/>
<rect x="582" y="286" width="1" height="21" fill="#4ccf4c"/>
<rect x="584" y="282" width="1" height="20" fill="#000"/>
<rect x="584" y="283" width="1" height="16" fill="#4ccf4c"/>
<rect x="586" y="296" width="1" height="17" fill="#000"/>
<rect x="586" y="296" width="1" height="15" fill="#c8303c"/>
<rect x="588" y="313" width="1" height="17" fill="#000"/>
<rect x="588" y="315" width="1" height="12" fill="#c8303c"/>
<rect x="591" y="318" width="1" height="13" fill="#000"/>
<rect x="591" y="321" width="1" height="4" fill="#4ccf4c"/>
<rect x="593" y="318" width="1" height="13" fill="#000"/>
<rect x="593" y="319" width="1" height="10" fill="#4ccf4c"/>
<rect x="595" y="323" width="1" height="13" fill="#000"/>
<rect x="597" y="318" width="1" height="13" fill="#000"/>
<rect x="597" y="320" width="1" height="11" fill="#4ccf4c"/>
<rect x="599" y="317" width="1" height="11" fill="#000"/>
<rect x="599" y="317" width="1" height="10" fill="#4ccf4c"/>
<rect x="601" y="312" width="1" height="8" fill="#000"/>
<rect x="603" y="312" width="1" height="10" fill="#000"/>
<rect x="603" y="313" width="1" height="8" fill="#c8303c"/>
<rect x="605" y="308" width="1" height="15" fill="#000"/>
<rect x="605" y="308" width="1" height="14" fill="#4ccf4c"/>
<rect x="607" y="303" width="1" height="10" fill="#000"/>
<rect x="607" y="305" width="1" height="7" fill="#4ccf4c"/>
<rect x="610" y="301" width="1" height="9" fill="#000"/>
<rect x="610" y="302" width="1" height="6" fill="#4ccf4c"/>
<rect x="612" y="300" width="1" height="10" fill="#000"/>
<rect x="612" y="302" width="1" height="3" fill="#c8303c"/>
<rect x="614" y="294" width="1" height="17" fill="#000"/>
<rect x="614" y="296" width="1" height="12" fill="#4ccf4c"/>
<rect x="616" y="296" width="1" height="31" fill="#000"/>
<rect x="616" y="300" width="1" height="23" fill="#c8303c"/>
<rect x="618" y="322" width="1" height="21" fill="#000"/>
<rect x="618" y="325" width="1" height="16" fill="#c8303c"/>
<rect x="620" y="340" width="1" height="6" fill="#000"/>
<rect x="620" y="342" width="1" height="2" fill="#4ccf4c"/>
<rect x="622" y="341" width="1" height="6" fill="#000"/>
<rect x="624" y="341" width="1" height="8" fill="#000"/>
<rect x="624" y="342" width="1" height="7" fill="#c8303c"/>
<rect x="627" y="343" width="1" height="5" fill="#000"/>
<rect x="629" y="333" width="1" height="10" fill="#000"/>
<rect x="629" y="333" width="1" height="10" fill="#c8303c"/>
<rect x="631" y="336" width="1" height="10" fill="#000"/>
<rect x="631" y="338" width="1" height="5" fill="#4ccf4c"/>
<rect x="633" y="334" width="1" height="10" fill="#000"/>
<rect x="633" y="335" width="1" height="8" fill="#4ccf4c"/>
<rect x="635" y="330" width="1" height="11" fill="#000"/>
<rect x="635" y="331" width="1" height="10" fill="#4ccf4c"/>
<rect x="637" y="328" width="1" height="9" fill="#000"/>
<rect x="637" y="329" width="1" height="8" fill="#4ccf4c"/>
<rect x="639" y="321" width="1" height="15" fill="#000"/>
<rect x="639" y="322" width="1" height="13" fill="#4ccf4c"/>
<rect x="641" y="322" width="1" height="16" fill="#000"/>
<rect x="641" y="325" width="1" height="11" fill="#c8303c"/>
<rect x="643" y="330" width="1" height="17" fill="#000"/>
<rect x="643" y="333" width="1" height="13" fill="#c8303c"/>
<rect x="646" y="334" width="1" height="9" fill="#000"/>
<rect x="646" y="338" width="1" height="3" fill="#c8303c"/>
<rect x="648" y="327" width="1" height="17" fill="#000"/>
<rect x="648" y="328" width="1" height="16" fill="#4ccf4c"/>
<rect x="650" y="312" width="1" height="11" fill="#000"/>
<rect x="650" y="313" width="1" height="9" fill="#4ccf4c"/>
<rect x="652" y="310" width="1" height="9" fill="#000"/>
<rect x="652" y="313" width="1" height="3" fill="#c8303c"/>
<rect x="654" y="307" width="1" height="9" fill="#000"/>
<rect x="654" y="309" width="1" height="2" fill="#4ccf4c"/>
<rect x="656" y="309" width="1" height="5" fill="#000"/>
<rect x="658" y="297" width="1" height="12" fill="#000"/>
<rect x="658" y="298" width="1" height="11" fill="#4ccf4c"/>
<rect x="660" y="297" width="1" height="11" fill="#000"/>
<rect x="663" y="300" width="1" height="7" fill="#000"/>
<rect x="665" y="292" width="1" height="12" fill="#000"/>
<rect x="665" y="293" width="1" height="11" fill="#4ccf4c"/>
<rect x="667" y="290" width="1" height="20" fill="#000"/>
<rect x="667" y="293" width="1" height="16" fill="#c8303c"/>
<rect x="669" y="304" width="1" height="7" fill="#000"/>
<rect x="671" y="306" width="1" height="6" fill="#000"/>
<rect x="671" y="308" width="1" height="2" fill="#4ccf4c"/>
<rect x="673" y="311" width="1" height="12" fill="#000"/>
<rect x="673" y="313" width="1" height="9" fill="#c8303c"/>
<rect x="675" y="321" width="1" height="29" fill="#000"/>
<rect x="675" y="322" width="1" height="27" fill="#c8303c"/>
<rect x="677" y="338" width="1" height="16" fill="#000"/>
<rect x="677" y="339" width="1" height="13" fill="#c8303c"/>
<rect x="680" y="328" width="1" height="13" fill="#000"/>
<rect x="682" y="327" width="1" height="11" fill="#000"/>
<rect x="682" y="329" width="1" height="4" fill="#c8303c"/>
<rect x="684" y="328" width="1" height="6" fill="#000"/>
<rect x="684" y="329" width="1" height="2" fill="#4ccf4c"/>
<rect x="686" y="322" width="1" height="11" fill="#000"/>
<rect x="688" y="306" width="1" height="22" fill="#000"/>
<rect x="688" y="309" width="1" height="16" fill="#4ccf4c"/>
<rect x="690" y="307" width="1" height="13" fill="#000"/>
<rect x="692" y="303" width="1" height="10" fill="#000"/>
<rect x="692" y="305" width="1" height="7" fill="#4ccf4c"/>
<rect x="694" y="285" width="1" height="22" fill="#000"/>
<rect x="694" y="286" width="1" height="17" fill="#4ccf4c"/>
<rect x="696" y="278" width="1" height="17" fill="#000"/>
<rect x="699" y="270" width="1" height="18" fill="#000"/>
<rect x="699" y="270" width="1" height="16" fill="#4ccf4c"/>
<rect x="701" y="260" width="1" height="18" fill="#000"/>
<rect x="701" y="261" width="1" height="16" fill="#4ccf4c"/>
<rect x="703" y="257" width="1" height="10" fill="#000"/>
<rect x="703" y="258" width="1" height="9" fill="#c8303c"/>
<rect x="705" y="258" width="1" height="13" fill="#000"/>
<rect x="705" y="261" width="1" height="4" fill="#c8303c"/>
<rect x="707" y="253" width="1" height="20" fill="#000"/>
<rect x="707" y="253" width="1" height="17" fill="#4ccf4c"/>
<rect x="709" y="253" width="1" height="11" fill="#000"/>
<rect x="709" y="253" width="1" height="10" fill="#c8303c"/>
<rect x="711" y="257" width="1" height="13" fill="#000"/>
<rect x="713" y="255" width="1" height="13" fill="#000"/>
<rect x="716" y="249" width="1" height="13" fill="#000"/>
<rect x="716" y="253" width="1" height="4" fill="#4ccf4c"/>
<rect x="718" y="249" width="1" height="17" fill="#000"/>
<rect x="718" y="252" width="1" height="13" fill="#4ccf4c"/>
<rect x="720" y="237" width="1" height="15" fill="#000"/>
<rect x="720" y="238" width="1" height="12" fill="#c8303c"/>
<rect x="722" y="232" width="1" height="32" fill="#000"/>
<rect x="722" y="246" width="1" height="13" fill="#c8303c"/>
<rect x="724" y="228" width="1" height="16" fill="#000"/>
<rect x="724" y="228" width="1" height="16" fill="#4ccf4c"/>
<rect x="726" y="230" width="1" height="13" fill="#000"/>
<rect x="726" y="230" width="1" height="11" fill="#c8303c"/>
<rect x="728" y="238" width="1" height="5" fill="#000"/>
<rect x="730" y="215" width="1" height="27" fill="#000"/>
<rect x="730" y="216" width="1" height="22" fill="#4ccf4c"/>
<rect x="732" y="215" width="1" height="13" fill="#000"/>
<rect x="735" y="209" width="1" height="15" fill="#000"/>
<rect x="735" y="210" width="1" height="13" fill="#4ccf4c"/>
<rect x="737" y="198" width="1" height="14" fill="#000"/>
<rect x="737" y="200" width="1" height="10" fill="#4ccf4c"/>
<rect x="739" y="194" width="1" height="13" fill="#000"/>
<rect x="739" y="197" width="1" height="6" fill="#4ccf4c"/>
<rect x="741" y="187" width="1" height="17" fill="#000"/>
<rect x="741" y="187" width="1" height="15" fill="#4ccf4c"/>
<rect x="743" y="186" width="1" height="15" fill="#000"/>
<rect x="745" y="185" width="1" height="27" fill="#000"/>
<rect x="745" y="188" width="1" height="19" fill="#c8303c"/>
<rect x="747" y="188" width="1" height="11" fill="#000"/>
<rect x="747" y="188" width="1" height="11" fill="#4ccf4c"/>
<rect x="749" y="189" width="1" height="13" fill="#000"/>
<rect x="749" y="190" width="1" height="10" fill="#c8303c"/>
<rect x="752" y="197" width="1" height="27" fill="#000"/>
<rect x="752" y="202" width="1" height="20" fill="#c8303c"/>
<rect x="754" y="196" width="1" height="14" fill="#000"/>
<rect x="754" y="200" width="1" height="6" fill="#c8303c"/>
<rect x="756" y="194" width="1" height="22" fill="#000"/>
<rect x="756" y="195" width="1" height="18" fill="#c8303c"/>
<rect x="758" y="197" width="1" height="24" fill="#000"/>
<rect x="758" y="200" width="1" height="17" fill="#c8303c"/>
<rect x="760" y="197" width="1" height="19" fill="#000"/>
<rect x="760" y="200" width="1" height="14" fill="#c8303c"/>
<rect x="762" y="200" width="1" height="14" fill="#000"/>
<rect x="762" y="201" width="1" height="12" fill="#c8303c"/>
<rect x="764" y="210" width="1" height="16" fill="#000"/>
<rect x="764" y="211" width="1" height="13" fill="#c8303c"/>
<rect x="766" y="217" width="1" height="9" fill="#000"/>
<rect x="766" y="217" width="1" height="9" fill="#c8303c"/>
<rect x="769" y="221" width="1" height="17" fill="#000"/>
<rect x="769" y="223" width="1" height="14" fill="#c8303c"/>
<rect x="771" y="215" width="1" height="15" fill="#000"/>
<rect x="771" y="215" width="1" height="15" fill="#4ccf4c"/>
<rect x="773" y="204" width="1" height="18" fill="#000"/>
<rect x="773" y="206" width="1" height="15" fill="#4ccf4c"/>
<rect x="775" y="206" width="1" height="11" fill="#000"/>
<rect x="775" y="208" width="1" height="7" fill="#c8303c"/>
<rect x="777" y="199" width="1" height="19" fill="#000"/>
<rect x="777" y="202" width="1" height="15" fill="#c8303c"/>
<rect x="779" y="200" width="1" height="24" fill="#000"/>
<rect x="779" y="208" width="1" height="7" fill="#c8303c"/>
<rect x="781" y="195" width="1" height="9" fill="#000"/>
<rect x="781" y="196" width="1" height="8" fill="#4ccf4c"/>
<rect x="783" y="195" width="1" height="11" fill="#000"/>
<rect x="783" y="196" width="1" height="9" fill="#4ccf4c"/>
<rect x="785" y="196" width="1" height="18" fill="#000"/>
<rect x="785" y="204" width="1" height="9" fill="#c8303c"/>
<rect x="788" y="214" width="1" height="16" fill="#000"/>
<rect x="788" y="218" width="1" height="8" fill="#c8303c"/>
<rect x="790" y="217" width="1" height="9" fill="#000"/>
<rect x="790" y="218" width="1" height="7" fill="#c8303c"/>
<rect x="792" y="219" width="1" height="17" fill="#000"/>
<rect x="792" y="220" width="1" height="15" fill="#c8303c"/>
<rect x="794" y="223" width="1" height="12" fill="#000"/>
<rect x="794" y="224" width="1" height="11" fill="#c8303c"/>
<rect x="796" y="215" width="1" height="18" fill="#000"/>
<rect x="798" y="222" width="1" height="14" fill="#000"/>
<rect x="798" y="223" width="1" height="12" fill="#c8303c"/>
<rect x="800" y="226" width="1" height="12" fill="#000"/>
<rect x="800" y="227" width="1" height="9" fill="#c8303c"/>
<rect x="802" y="231" width="1" height="6" fill="#000"/>
<rect x="802" y="232" width="1" height="5" fill="#4ccf4c"/>
<rect x="805" y="228" width="1" height="12" fill="#000"/>
<rect x="807" y="222" width="1" height="16" fill="#000"/>
<rect x="807" y="224" width="1" height="11" fill="#4ccf4c"/>
<rect x="809" y="208" width="1" height="19" fill="#000"/>
<rect x="809" y="208" width="1" height="17" fill="#4ccf4c"/>
<rect x="811" y="206" width="1" height="9" fill="#000"/>
<rect x="813" y="196" width="1" height="10" fill="#000"/>
<rect x="813" y="198" width="1" height="6" fill="#4ccf4c"/>
<rect x="815" y="181" width="1" height="17" fill="#000"/>
<rect x="815" y="181" width="1" height="16" fill="#4ccf4c"/>
<rect x="817" y="174" width="1" height="17" fill="#000"/>
<rect x="817" y="174" width="1" height="16" fill="#c8303c"/>
<rect x="819" y="165" width="1" height="17" fill="#000"/>
<rect x="821" y="172" width="1" height="19" fill="#000"/>
<rect x="821" y="174" width="1" height="14" fill="#4ccf4c"/>
<rect x="824" y="172" width="1" height="13" fill="#000"/>
<rect x="824" y="173" width="1" height="10" fill="#c8303c"/>
<rect x="826" y="172" width="1" height="11" fill="#000"/>
<rect x="826" y="173" width="1" height="9" fill="#c8303c"/>
<rect x="828" y="178" width="1" height="16" fill="#000"/>
<rect x="830" y="181" width="1" height="18" fill="#000"/>
<rect x="830" y="184" width="1" height="15" fill="#c8303c"/>
<rect x="832" y="178" width="1" height="18" fill="#000"/>
<rect x="832" y="180" width="1" height="14" fill="#4ccf4c"/>
<rect x="834" y="170" width="1" height="14" fill="#000"/>
<rect x="834" y="171" width="1" height="12" fill="#4ccf4c"/>
<rect x="836" y="166" width="1" height="12" fill="#000"/>
<rect x="836" y="166" width="1" height="12" fill="#4ccf4c"/>
<rect x="838" y="165" width="1" height="11" fill="#000"/>
<rect x="838" y="169" width="1" height="5" fill="#4ccf4c"/>
<rect x="841" y="166" width="1" height="10" fill="#000"/>
<rect x="841" y="166" width="1" height="9" fill="#4ccf4c"/>
<rect x="843" y="162" width="1" height="8" fill="#000"/>
<rect x="843" y="164" width="1" height="2" fill="#4ccf4c"/>
<rect x="845" y="160" width="1" height="10" fill="#000"/>
<rect x="847" y="157" width="1" height="15" fill="#000"/>
<rect x="847" y="158" width="1" height="14" fill="#c8303c"/>
<rect x="849" y="168" width="1" height="26" fill="#000"/>
<rect x="849" y="168" width="1" height="24" fill="#c8303c"/>
<rect x="851" y="166" width="1" height="23" fill="#000"/>
<rect x="851" y="168" width="1" height="18" fill="#4ccf4c"/>
<rect x="853" y="154" width="1" height="15" fill="#000"/>
<rect x="853" y="154" width="1" height="15" fill="#4ccf4c"/>
<rect x="855" y="136" width="1" height="29" fill="#000"/>
<rect x="855" y="140" width="1" height="23" fill="#4ccf4c"/>
<rect x="857" y="136" width="1" height="12" fill="#000"/>
<rect x="857" y="141" width="1" height="4" fill="#4ccf4c"/>
<rect x="860" y="139" width="1" height="10" fill="#000"/>
<rect x="860" y="140" width="1" height="8" fill="#4ccf4c"/>
<rect x="862" y="133" width="1" height="14" fill="#000"/>
<rect x="862" y="134" width="1" height="11" fill="#c8303c"/>
<rect x="864" y="138" width="1" height="10" fill="#000"/>
<rect x="864" y="140" width="1" height="7" fill="#4ccf4c"/>
<rect x="866" y="132" width="1" height="12" fill="#000"/>
<rect x="866" y="132" width="1" height="10" fill="#4ccf4c"/>
<rect x="868" y="127" width="1" height="17" fill="#000"/>
<rect x="868" y="128" width="1" height="16" fill="#4ccf4c"/>
<rect x="870" y="126" width="1" height="17" fill="#000"/>
<rect x="870" y="129" width="1" height="13" fill="#c8303c"/>
<rect x="872" y="120" width="1" height="15" fill="#000"/>
<rect x="872" y="122" width="1" height="12" fill="#4ccf4c"/>
<rect x="874" y="112" width="1" height="16" fill="#000"/>
<rect x="874" y="115" width="1" height="12" fill="#4ccf4c"/>
<rect x="877" y="96" width="1" height="17" fill="#000"/>
<rect x="877" y="102" width="1" height="5" fill="#c8303c"/>
<rect x="879" y="99" width="1" height="11" fill="#000"/>
<rect x="879" y="101" width="1" height="9" fill="#4ccf4c"/>
<rect x="881" y="90" width="1" height="18" fill="#000"/>
<rect x="881" y="92" width="1" height="15" fill="#4ccf4c"/>
<rect x="883" y="85" width="1" height="14" fill="#000"/>
<rect x="883" y="86" width="1" height="13" fill="#4ccf4c"/>
<rect x="885" y="80" width="1" height="20" fill="#000"/>
<rect x="885" y="89" width="1" height="9" fill="#4ccf4c"/>
<rect x="887" y="78" width="1" height="15" fill="#000"/>
<rect x="887" y="79" width="1" height="12" fill="#4ccf4c"/>
<rect x="889" y="74" width="1" height="13" fill="#000"/>
<rect x="889" y="76" width="1" height="11" fill="#c8303c"/>
<rect x="891" y="76" width="1" height="10" fill="#000"/>
<rect x="891" y="80" width="1" height="5" fill="#4ccf4c"/>
<rect x="894" y="71" width="1" height="21" fill="#000"/>
<rect x="894" y="71" width="1" height="17" fill="#4ccf4c"/>
<rect x="896" y="95" width="1" height="63" fill="#000"/>
<rect x="896" y="99" width="1" height="49" fill="#c8303c"/>
<rect x="898" y="140" width="1" height="30" fill="#000"/>
<rect x="898" y="143" width="1" height="23" fill="#4ccf4c"/>
<rect x="900" y="132" width="1" height="26" fill="#000"/>
<rect x="900" y="133" width="1" height="21" fill="#4ccf4c"/>
<rect x="902" y="144" width="1" height="29" fill="#000"/>
<rect x="902" y="145" width="1" height="26" fill="#c8303c"/>
<rect x="904" y="135" width="1" height="26" fill="#000"/>
<rect x="904" y="139" width="1" height="18" fill="#4ccf4c"/>
<rect x="906" y="135" width="1" height="18" fill="#000"/>
<rect x="906" y="136" width="1" height="16" fill="#c8303c"/>
<rect x="908" y="139" width="1" height="17" fill="#000"/>
<rect x="908" y="140" width="1" height="14" fill="#4ccf4c"/>
<rect x="910" y="137" width="1" height="15" fill="#000"/>
<rect x="910" y="141" width="1" height="5" fill="#c8303c"/>
<rect x="913" y="137" width="1" height="18" fill="#000"/>
<rect x="913" y="140" width="1" height="15" fill="#c8303c"/>
<rect x="915" y="121" width="1" height="42" fill="#000"/>
<rect x="915" y="125" width="1" height="32" fill="#c8303c"/>
<rect x="917" y="157" width="1" height="26" fill="#000"/>
<rect x="917" y="157" width="1" height="22" fill="#c8303c"/>
<rect x="919" y="158" width="1" height="25" fill="#000"/>
<rect x="919" y="167" width="1" height="11" fill="#c8303c"/>
<rect x="921" y="177" width="1" height="20" fill="#000"/>
<rect x="921" y="178" width="1" height="19" fill="#c8303c"/>
<rect x="923" y="195" width="1" height="35" fill="#000"/>
<rect x="923" y="196" width="1" height="34" fill="#c8303c"/>
<rect x="925" y="230" width="1" height="91" fill="#000"/>
<rect x="925" y="230" width="1" height="81" fill="#c8303c"/>
</g>
<line x1="16" y1="311.5" x2="953" y2="311.5" stroke="#b4183a" stroke-width="1" stroke-dasharray="6,4" shape-rendering="crispEdges"/>
<line x1="167" y1="514" x2="953" y2="272.7" stroke="#000" stroke-width="1" shape-rendering="crispEdges"/>
<line x1="584" y1="282.4" x2="953" y2="316.5" stroke="#000" stroke-width="1" shape-rendering="crispEdges"/>
<line x1="28.5" y1="519" x2="28.5" y2="524" stroke="#b03040" stroke-width="1"/>
<line x1="75.5" y1="519" x2="75.5" y2="524" stroke="#b03040" stroke-width="1"/>
<line x1="118.5" y1="519" x2="118.5" y2="524" stroke="#b03040" stroke-width="1"/>
<line x1="165.5" y1="519" x2="165.5" y2="524" stroke="#b03040" stroke-width="1"/>
<line x1="209.5" y1="519" x2="209.5" y2="524" stroke="#b03040" stroke-width="1"/>
<line x1="258.5" y1="519" x2="258.5" y2="524" stroke="#b03040" stroke-width="1"/>
<line x1="302.5" y1="519" x2="302.5" y2="524" stroke="#b03040" stroke-width="1"/>
<line x1="349.5" y1="519" x2="349.5" y2="524" stroke="#b03040" stroke-width="1"/>
<line x1="398.5" y1="519" x2="398.5" y2="524" stroke="#b03040" stroke-width="1"/>
<line x1="441.5" y1="519" x2="441.5" y2="524" stroke="#b03040" stroke-width="1"/>
<line x1="489.5" y1="519" x2="489.5" y2="524" stroke="#b03040" stroke-width="1"/>
<line x1="535.5" y1="519" x2="535.5" y2="524" stroke="#b03040" stroke-width="1"/>
<line x1="580.5" y1="519" x2="580.5" y2="524" stroke="#b03040" stroke-width="1"/>
<line x1="629.5" y1="519" x2="629.5" y2="524" stroke="#b03040" stroke-width="1"/>
<line x1="671.5" y1="519" x2="671.5" y2="524" stroke="#b03040" stroke-width="1"/>
<line x1="717.5" y1="519" x2="717.5" y2="524" stroke="#b03040" stroke-width="1"/>
<line x1="762.5" y1="519" x2="762.5" y2="524" stroke="#b03040" stroke-width="1"/>
<line x1="811.5" y1="519" x2="811.5" y2="524" stroke="#b03040" stroke-width="1"/>
<line x1="854.5" y1="519" x2="854.5" y2="524" stroke="#b03040" stroke-width="1"/>
<line x1="902.5" y1="519" x2="902.5" y2="524" stroke="#b03040" stroke-width="1"/>
<line x1="934.5" y1="519" x2="934.5" y2="524" stroke="#b03040" stroke-width="1"/>
<line x1="954" y1="77.5" x2="958" y2="77.5" stroke="#800020" stroke-width="1"/>
<line x1="954" y1="100.5" x2="958" y2="100.5" stroke="#800020" stroke-width="1"/>
<line x1="954" y1="124.5" x2="958" y2="124.5" stroke="#800020" stroke-width="1"/>
<line x1="954" y1="148.5" x2="958" y2="148.5" stroke="#800020" stroke-width="1"/>
<line x1="954" y1="171.5" x2="958" y2="171.5" stroke="#800020" stroke-width="1"/>
<line x1="954" y1="195.5" x2="958" y2="195.5" stroke="#800020" stroke-width="1"/>
<line x1="954" y1="219.5" x2="958" y2="219.5" stroke="#800020" stroke-width="1"/>
<line x1="954" y1="243.5" x2="958" y2="243.5" stroke="#800020" stroke-width="1"/>
<line x1="954" y1="266.5" x2="958" y2="266.5" stroke="#800020" stroke-width="1"/>
<line x1="954" y1="290.5" x2="958" y2="290.5" stroke="#800020" stroke-width="1"/>
<line x1="954" y1="327.5" x2="958" y2="327.5" stroke="#800020" stroke-width="1"/>
<line x1="954" y1="351.5" x2="958" y2="351.5" stroke="#800020" stroke-width="1"/>
<line x1="954" y1="374.5" x2="958" y2="374.5" stroke="#800020" stroke-width="1"/>
<line x1="954" y1="398.5" x2="958" y2="398.5" stroke="#800020" stroke-width="1"/>
<line x1="954" y1="422.5" x2="958" y2="422.5" stroke="#800020" stroke-width="1"/>
<line x1="954" y1="446.5" x2="958" y2="446.5" stroke="#800020" stroke-width="1"/>
<line x1="954" y1="470.5" x2="958" y2="470.5" stroke="#800020" stroke-width="1"/>
<line x1="954" y1="494.5" x2="958" y2="494.5" stroke="#800020" stroke-width="1"/>
<line x1="954" y1="311.5" x2="958" y2="311.5" stroke="#800020" stroke-width="1"/>
<line x1="954" y1="572.5" x2="958" y2="572.5" stroke="#800020" stroke-width="1"/>
<line x1="954" y1="601.5" x2="958" y2="601.5" stroke="#800020" stroke-width="1"/>
<line x1="954" y1="629.5" x2="958" y2="629.5" stroke="#800020" stroke-width="1"/>
<line x1="954" y1="657.5" x2="958" y2="657.5" stroke="#800020" stroke-width="1"/>
<line x1="954" y1="689.5" x2="958" y2="689.5" stroke="#800020" stroke-width="1"/>
<line x1="16" y1="628.5" x2="953" y2="628.5" stroke="#b4183a" stroke-width="1" stroke-dasharray="6,4" shape-rendering="crispEdges"/>
<line x1="16" y1="648.5" x2="953" y2="648.5" stroke="#b4183a" stroke-width="1" stroke-dasharray="6,4" shape-rendering="crispEdges"/>
<line x1="16" y1="689.5" x2="953" y2="689.5" stroke="#b4183a" stroke-width="1" stroke-dasharray="6,4" shape-rendering="crispEdges"/>
<polyline points="15.91,628.73 17.83,632.56 20.7,637.34 23.57,640.21 27.4,642.51 31.22,643.66 33.14,642.12 36.01,636.38 38.88,631.6 42.71,625.86 47.49,620.11 51.32,616.29 54.19,613.99 58.02,613.42 63.76,613.03 69.5,613.03 75.24,613.03 80.03,613.42 82.9,616.29 86.73,622.03 90.56,627.77 94.38,631.6 98.21,634.47 103.95,637.34 109.69,639.25 115.44,639.64 119.26,637.91 123.09,635.43 126.92,634.47 130,636.38 133.83,637.91 137.66,638.3 141.48,638.3 145.31,642.12 149.14,645.95 152.97,652.65 156.79,660.31 160.62,666.05 164.45,667.96 168.28,669.3 172.11,663.18 175.93,655.52 179.76,645.95 183.59,640.21 187.42,634.47 191.24,628.73 195.07,621.07 199.86,613.42 204.64,605.76 208.47,596.19 212.3,588.54 216.12,581.84 219.95,577.05 223.78,573.22 227.61,570.35 229.52,569.4 232.39,572.27 236.22,577.05 240.05,582.79 243.88,590.45 246,594.28 249.83,601.93 254.61,608.63 259.4,615.33 263.22,622.03 267.05,629.68 270.88,635.43 275.67,640.21 280.45,644.42 286.19,648.25 291.93,651.69 295.76,653.61 300.55,655.52 304.37,652.65 309.16,647.87 313.94,640.21 318.73,632.56 322.56,627.77 328.3,623.94 334.04,621.07 339.78,617.24 344.56,612.46 349.35,607.67 353.18,604.23 357,602.32 360.83,601.93 365.83,601.93 371.57,603.46 376.35,606.72 381.14,609.59 386.88,613.42 392.62,616.29 398.36,617.63 402.19,616.29 406.02,617.24 411.76,622.99 417.5,628.73 423.24,633.51 428.99,636.77 434.73,638.3 440.47,640.21 446.21,643.08 451.95,645.95 457.12,648.25 461.52,645.95 467.26,641.17 473,634.47 478,628.73 481.83,622.99 486.61,613.42 491.4,607.67 496.18,602.89 500.97,600.98 505.75,602.89 510.54,605.76 516.28,608.63 522.02,610.55 526.8,608.63 532.55,603.85 537.33,600.02 543.07,597.15 547.86,595.23 552.64,596.19 558.38,600.4 564.12,604.8 569.87,608.63 575.61,610.55 581.35,611.5 585.18,610.55 589,613.42 593.79,617.24 597.83,621.07 603.57,623.94 608.35,622.99 613.14,621.07 616.97,622.99 621.75,629.68 627.49,634.47 633.23,637.34 638.98,637.91 644.72,638.68 649.5,635.43 655.24,629.68 660.99,624.9 666.73,620.11 671.51,616.86 674.38,619.16 679.17,624.9 683.95,627.77 689.69,628.73 693.52,625.86 698.31,620.11 703.09,613.42 706.92,606.72 710.37,600.98 713.83,597.15 718.61,593.32 723.4,589.49 728.18,586.62 732.97,583.75 737.75,578.97 742.54,575.14 747.32,572.27 751.15,571.31 754.98,575.14 758.8,579.92 763.59,586.62 767.42,593.32 772.2,599.06 776.99,603.85 780.81,606.14 785.6,607.67 790.38,612.46 795.17,618.2 799,622.99 803.78,626.81 808.56,628.34 813.35,626.81 818.13,621.07 822.92,614.37 826.37,610.07 829.83,606.72 834.61,603.85 839.4,601.93 844.18,600.4 848.97,600.98 853.75,601.93 858.54,599.06 864.28,596.19 870.02,593.32 875.76,590.45 880.55,585.67 885.33,580.88 889.16,577.05 892.99,575.14 894.9,576.1 897.77,583.75 900.64,591.41 903.51,599.06 906.38,604.8 910.21,610.55 914.04,617.24 917.87,624.9 920.74,630.64 922.65,636.38 924.56,643.08 925.52,647.87" fill="none" stroke="#b8243c" stroke-width="1" shape-rendering="crispEdges"/>
<polyline points="15.91,640.21 17.83,645.95 20.7,650.16 23.57,650.74 27.4,647.87 31.22,643.08 33.14,636.38 36.01,626.81 38.88,619.16 41.75,614.37 44.62,611.5 47.49,609.59 50.36,607.29 52.28,607.67 55.15,611.5 58.02,613.42 60.89,612.84 65.67,612.84 69.5,613.42 71.42,616.29 73.33,613.42 77.16,613.42 80.03,614.37 81.94,617.24 84.81,622.99 87.68,630.64 90.56,637.34 92.47,639.25 96.3,640.21 102.04,640.59 107.78,641.55 111.61,641.17 115.44,640.78 118.31,636.38 121.18,631.6 123.09,630.26 125,631.6 126.92,634.47 128.83,637.34 130,638.3 133.83,640.59 137.66,639.25 141.48,637.91 145.31,647.87 149.14,657.44 152.97,665.09 156.79,674.66 160.24,679.44 163.49,675.62 168.28,669.88 171.15,659.35 174.98,647.87 178.8,637.34 182.63,629.68 186.46,627.77 189.33,621.07 192.2,612.46 196.03,607.67 200.81,601.93 204.64,594.28 208.47,586.62 212.3,578.01 215.17,571.31 218.04,566.53 221.87,565.57 225.69,563.66 228.56,565.57 231.44,573.22 235.26,582.79 240.05,594.28 243.88,607.67 246,611.5 249.83,615.33 254.61,617.24 257.48,621.07 261.31,630.64 265.14,638.3 268.97,645 272.79,645.95 276.62,650.74 280.45,652.65 284.28,654.56 287.15,653.99 290.02,655.52 293.85,657.44 297.67,658.39 299.59,656.48 301.5,651.69 304.37,645.95 308.2,642.12 312.03,634.47 315.86,627.77 319.68,621.07 323.51,616.86 328.3,617.63 334.04,615.33 338.82,613.42 341.69,608.63 345.52,602.89 350.31,597.15 354.13,599.06 357,599.06 358.92,601.93 362,601.93 365.83,601.55 368.7,604.8 372.53,605.76 376.35,611.5 381.14,613.42 385.92,617.24 389.75,621.07 393.58,620.11 398.36,618.2 401.23,614.37 403.15,613.42 406.02,617.24 408.89,624.9 411.76,632.56 415.59,636.38 419.42,638.3 423.24,640.21 427.07,641.17 430.9,640.21 434.73,641.17 438.56,643.08 442.38,645.95 446.21,647.87 450.04,648.82 453.87,649.21 457.12,649.4 459.61,645.95 463.44,638.3 467.26,632.56 471.09,626.81 474.92,622.03 478,619.16 481.83,611.5 486.61,602.89 491.4,596.57 495.22,597.15 498.1,596.19 500.97,599.06 504.79,605.76 508.62,611.5 513.41,613.42 517.23,612.46 522.02,610.55 526.8,606.72 531.59,600.02 535.42,593.32 539.24,591.41 544.03,592.36 548.81,595.23 553.6,600.02 558.38,606.72 563.17,609.59 567.95,612.46 572.74,615.33 576.56,613.42 580.39,611.5 583.26,608.06 586.13,609.59 589,617.24 592.83,622.03 596.87,627.77 601.66,628.34 605.48,625.86 609.31,622.03 614.1,618.2 616.97,622.03 620.79,632.56 624.62,639.25 629.41,641.17 633.23,642.51 637.06,640.21 640.89,637.91 643.76,639.25 646.63,636.38 650.46,629.68 654.29,622.99 659.07,617.24 662.9,614.37 665.77,611.5 669.6,613.42 672.47,617.24 675.34,625.86 679.17,631.6 683,634.47 686.82,631.6 690.65,628.73 693.52,619.16 697.35,609.59 701.18,600.02 705,594.28 708.83,590.07 710,590.07 713.83,590.45 717.66,590.07 721.48,585.67 725.31,582.41 729.14,581.84 732.97,578.97 736.79,575.14 740.62,569.4 744.45,566.53 748.28,568.44 752.11,573.22 756.89,580.88 760.72,590.45 764.55,599.06 768.37,605.76 772.2,609.59 776.03,610.55 779.86,611.5 783.68,609.59 787.51,613.42 791.34,619.16 795.17,625.86 799,629.68 802.82,632.56 805.69,633.51 808.56,631.6 812.39,623.94 816.22,615.33 820.05,607.67 823.88,601.93 826.37,600.4 828.87,600.98 831.74,602.51 835.57,601.55 839.4,600.02 843.22,598.49 847.05,599.06 849.92,602.51 852.79,601.55 856.62,597.15 860.45,594.28 866.19,591.41 871.93,586.62 876.72,581.84 880.55,577.05 884.37,572.27 888.2,569.78 892.03,569.78 893.94,572.27 895.86,580.88 897.77,590.45 899.68,600.98 902.56,611.5 905.43,619.16 908.3,623.94 911.17,626.81 914.04,627.77 916.91,634.47 919.78,644.04 922.65,659.35 924.56,674.66 925.52,689.01" fill="none" stroke="#000" stroke-width="1" shape-rendering="crispEdges"/>
<g shape-rendering="crispEdges">
<rect x="1" y="550" width="1020" height="1" fill="#b0b0b0"/>
<rect x="1" y="551" width="1020" height="1" fill="#fdfdfd"/>
<rect x="1" y="552" width="1020" height="2" fill="#c8c8c8"/>
<rect x="1" y="554" width="1020" height="1" fill="#505050"/>
<rect x="1021" y="550" width="1" height="6" fill="#404040"/>
<rect x="1" y="552" width="1" height="4" fill="#404040"/>
</g>
</svg>
<div class="ax" style="left:958.60px;top:70.10px"><i style="left:0.00px">0</i><i style="left:4.90px">.</i><i style="left:9.80px">8</i><i style="left:14.70px">8</i><i style="left:19.60px">5</i><i style="left:24.50px">0</i></div>
<div class="ax" style="left:958.60px;top:93.80px"><i style="left:0.00px">0</i><i style="left:4.90px">.</i><i style="left:9.80px">8</i><i style="left:14.70px">7</i><i style="left:19.60px">5</i><i style="left:24.50px">0</i></div>
<div class="ax" style="left:958.60px;top:117.50px"><i style="left:0.00px">0</i><i style="left:4.90px">.</i><i style="left:9.80px">8</i><i style="left:14.70px">6</i><i style="left:19.60px">5</i><i style="left:24.50px">0</i></div>
<div class="ax" style="left:958.60px;top:141.30px"><i style="left:0.00px">0</i><i style="left:4.90px">.</i><i style="left:9.80px">8</i><i style="left:14.70px">5</i><i style="left:19.60px">5</i><i style="left:24.50px">0</i></div>
<div class="ax" style="left:958.60px;top:165.00px"><i style="left:0.00px">0</i><i style="left:4.90px">.</i><i style="left:9.80px">8</i><i style="left:14.70px">4</i><i style="left:19.60px">5</i><i style="left:24.50px">0</i></div>
<div class="ax" style="left:958.60px;top:188.90px"><i style="left:0.00px">0</i><i style="left:4.90px">.</i><i style="left:9.80px">8</i><i style="left:14.70px">3</i><i style="left:19.60px">5</i><i style="left:24.50px">0</i></div>
<div class="ax" style="left:958.60px;top:212.70px"><i style="left:0.00px">0</i><i style="left:4.90px">.</i><i style="left:9.80px">8</i><i style="left:14.70px">2</i><i style="left:19.60px">5</i><i style="left:24.50px">0</i></div>
<div class="ax" style="left:958.60px;top:236.30px"><i style="left:0.00px">0</i><i style="left:4.90px">.</i><i style="left:9.80px">8</i><i style="left:14.70px">1</i><i style="left:19.60px">5</i><i style="left:24.50px">0</i></div>
<div class="ax" style="left:958.60px;top:259.90px"><i style="left:0.00px">0</i><i style="left:4.90px">.</i><i style="left:9.80px">8</i><i style="left:14.70px">0</i><i style="left:19.60px">5</i><i style="left:24.50px">0</i></div>
<div class="ax" style="left:958.60px;top:283.70px"><i style="left:0.00px">0</i><i style="left:4.90px">.</i><i style="left:9.80px">7</i><i style="left:14.70px">9</i><i style="left:19.60px">5</i><i style="left:24.50px">0</i></div>
<div class="ax" style="left:958.60px;top:320.40px"><i style="left:0.00px">0</i><i style="left:4.90px">.</i><i style="left:9.80px">7</i><i style="left:14.70px">8</i><i style="left:19.60px">0</i><i style="left:24.50px">0</i></div>
<div class="ax" style="left:958.60px;top:344.10px"><i style="left:0.00px">0</i><i style="left:4.90px">.</i><i style="left:9.80px">7</i><i style="left:14.70px">7</i><i style="left:19.60px">0</i><i style="left:24.50px">0</i></div>
<div class="ax" style="left:958.60px;top:367.90px"><i style="left:0.00px">0</i><i style="left:4.90px">.</i><i style="left:9.80px">7</i><i style="left:14.70px">6</i><i style="left:19.60px">0</i><i style="left:24.50px">0</i></div>
<div class="ax" style="left:958.60px;top:391.80px"><i style="left:0.00px">0</i><i style="left:4.90px">.</i><i style="left:9.80px">7</i><i style="left:14.70px">5</i><i style="left:19.60px">0</i><i style="left:24.50px">0</i></div>
<div class="ax" style="left:958.60px;top:415.60px"><i style="left:0.00px">0</i><i style="left:4.90px">.</i><i style="left:9.80px">7</i><i style="left:14.70px">4</i><i style="left:19.60px">0</i><i style="left:24.50px">0</i></div>
<div class="ax" style="left:958.60px;top:439.60px"><i style="left:0.00px">0</i><i style="left:4.90px">.</i><i style="left:9.80px">7</i><i style="left:14.70px">3</i><i style="left:19.60px">0</i><i style="left:24.50px">0</i></div>
<div class="ax" style="left:958.60px;top:463.50px"><i style="left:0.00px">0</i><i style="left:4.90px">.</i><i style="left:9.80px">7</i><i style="left:14.70px">2</i><i style="left:19.60px">0</i><i style="left:24.50px">0</i></div>
<div class="ax" style="left:958.60px;top:487.40px"><i style="left:0.00px">0</i><i style="left:4.90px">.</i><i style="left:9.80px">7</i><i style="left:14.70px">1</i><i style="left:19.60px">0</i><i style="left:24.50px">0</i></div>
<div class="ax" style="left:958.60px;top:304.60px;color:#c01c3c"><i style="left:0.00px">0</i><i style="left:4.90px">.</i><i style="left:9.80px">7</i><i style="left:14.70px">8</i><i style="left:19.60px">6</i><i style="left:24.50px">1</i><i style="left:29.40px">5</i></div>
<div class="ax" style="left:958.60px;top:565.50px"><i style="left:0.00px">0</i><i style="left:4.90px">.</i><i style="left:9.80px">0</i><i style="left:14.70px">1</i><i style="left:19.60px">0</i><i style="left:24.50px">0</i></div>
<div class="ax" style="left:958.60px;top:594.10px"><i style="left:0.00px">0</i><i style="left:4.90px">.</i><i style="left:9.80px">0</i><i style="left:14.70px">0</i><i style="left:19.60px">5</i><i style="left:24.50px">0</i></div>
<div class="ax" style="left:958.60px;top:622.10px"><i style="left:0.00px">0</i><i style="left:4.90px">.</i><i style="left:9.80px">0</i><i style="left:14.70px">0</i><i style="left:19.60px">0</i><i style="left:24.50px">0</i></div>
<div class="ax" style="left:958.60px;top:650.40px"><i style="left:0.00px">-</i><i style="left:4.90px">0</i><i style="left:9.80px">.</i><i style="left:14.70px">0</i><i style="left:19.60px">0</i><i style="left:24.50px">5</i><i style="left:29.40px">0</i></div>
<div class="ax" style="left:958.60px;top:682.50px;color:#c01c3c"><i style="left:0.00px">-</i><i style="left:4.90px">0</i><i style="left:9.80px">.</i><i style="left:14.70px">0</i><i style="left:19.60px">1</i><i style="left:24.50px">0</i><i style="left:29.40px">8</i><i style="left:34.30px">1</i></div>
<div class="ax" style="left:22.60px;top:525.30px"><i style="left:0.00px">0</i><i style="left:4.90px">1</i></div>
<div class="ax" style="left:69.60px;top:525.30px"><i style="left:0.00px">0</i><i style="left:4.90px">2</i></div>
<div class="ax" style="left:112.60px;top:525.30px"><i style="left:0.00px">0</i><i style="left:4.90px">3</i></div>
<div class="ax" style="left:159.60px;top:525.30px"><i style="left:0.00px">0</i><i style="left:4.90px">4</i></div>
<div class="ax" style="left:203.60px;top:525.30px"><i style="left:0.00px">0</i><i style="left:4.90px">5</i></div>
<div class="ax" style="left:252.60px;top:525.30px"><i style="left:0.00px">0</i><i style="left:4.90px">6</i></div>
<div class="ax" style="left:296.60px;top:525.30px"><i style="left:0.00px">0</i><i style="left:4.90px">7</i></div>
<div class="ax" style="left:343.60px;top:525.30px"><i style="left:0.00px">0</i><i style="left:4.90px">8</i></div>
<div class="ax" style="left:392.60px;top:525.30px"><i style="left:0.00px">0</i><i style="left:4.90px">9</i></div>
<div class="ax" style="left:435.60px;top:525.30px"><i style="left:0.00px">1</i><i style="left:4.90px">0</i></div>
<div class="ax" style="left:483.60px;top:525.30px"><i style="left:0.00px">1</i><i style="left:4.90px">1</i></div>
<div class="ax" style="left:529.60px;top:525.30px"><i style="left:0.00px">1</i><i style="left:4.90px">2</i></div>
<div class="ax" style="left:574.60px;top:525.30px"><i style="left:0.00px">0</i><i style="left:4.90px">1</i></div>
<div class="ax" style="left:623.60px;top:525.30px"><i style="left:0.00px">0</i><i style="left:4.90px">2</i></div>
<div class="ax" style="left:665.60px;top:525.30px"><i style="left:0.00px">0</i><i style="left:4.90px">3</i></div>
<div class="ax" style="left:711.60px;top:525.30px"><i style="left:0.00px">0</i><i style="left:4.90px">4</i></div>
<div class="ax" style="left:756.60px;top:525.30px"><i style="left:0.00px">0</i><i style="left:4.90px">5</i></div>
<div class="ax" style="left:805.60px;top:525.30px"><i style="left:0.00px">0</i><i style="left:4.90px">6</i></div>
<div class="ax" style="left:848.60px;top:525.30px"><i style="left:0.00px">0</i><i style="left:4.90px">7</i></div>
<div class="ax" style="left:896.60px;top:525.30px"><i style="left:0.00px">0</i><i style="left:4.90px">8</i></div>
<div class="ax" style="left:928.60px;top:525.30px"><i style="left:0.00px">0</i><i style="left:4.90px">9</i></div>
<div class="ax" style="left:559.70px;top:537.30px"><i style="left:0.00px">0</i><i style="left:4.90px">1</i><i style="left:9.80px">/</i><i style="left:14.70px">0</i><i style="left:19.60px">1</i><i style="left:24.50px">/</i><i style="left:29.40px">0</i><i style="left:34.30px">7</i></div>
<div id="zoom">Zoom</div>
<div id="macdt">MACD 26;12;9</div>
<div id="tool"></div>
<div class="btn" style="left:2px;width:25px"></div>
<div class="btn" style="left:31px;width:25px"></div>
<div class="btn" style="left:60px;width:77px"></div>
<div class="btn" style="left:140px;width:882px"></div>
<svg class="abs" style="left:0;top:700px" width="140" height="20" shape-rendering="crispEdges">
<rect x="9" y="9" width="4" height="1" fill="#000"/>
<rect x="13" y="6" width="1" height="8" fill="#000"/>
<rect x="14" y="7" width="5" height="1" fill="#000"/>
<rect x="14" y="12" width="5" height="1" fill="#000"/>
<rect x="14" y="8" width="5" height="4" fill="#e8e8e8"/>
<rect x="16" y="9" width="2" height="2" fill="#606060"/>
<rect x="19" y="6" width="1" height="8" fill="#000"/>
<rect x="40" y="4" width="1" height="10" fill="#000"/>
<rect x="36" y="10" width="17" height="1" fill="#000"/>
</svg>
<div class="abs" style="left:141px;top:704.5px;font:11px/12px 'Liberation Mono',monospace;color:#fff;white-space:nowrap;letter-spacing:-0.6px">Copyright (c) Saxo Bank 2004</div>
<div id="status">
<svg class="abs" style="left:0;top:0" width="40" height="18" shape-rendering="crispEdges" fill="#000"><rect x="4" y="2" width="1" height="1"/><rect x="8" y="2" width="1" height="1"/><rect x="11" y="2" width="1" height="1"/><rect x="3" y="3" width="7" height="1"/><rect x="11" y="3" width="4" height="1"/><rect x="4" y="4" width="1" height="1"/><rect x="8" y="4" width="1" height="1"/><rect x="10" y="4" width="1" height="1"/><rect x="13" y="4" width="1" height="1"/><rect x="3" y="5" width="5" height="1"/><rect x="9" y="5" width="1" height="1"/><rect x="11" y="5" width="2" height="1"/><rect x="3" y="6" width="1" height="1"/><rect x="7" y="6" width="1" height="1"/><rect x="11" y="6" width="2" height="1"/><rect x="3" y="7" width="5" height="1"/><rect x="9" y="7" width="2" height="1"/><rect x="13" y="7" width="2" height="1"/><rect x="3" y="8" width="12" height="1"/><rect x="6" y="9" width="6" height="1"/><rect x="5" y="10" width="8" height="1"/><rect x="5" y="11" width="1" height="1"/><rect x="12" y="11" width="1" height="1"/><rect x="5" y="12" width="8" height="1"/><rect x="18" y="2" width="1" height="1"/><rect x="21" y="2" width="1" height="1"/><rect x="17" y="3" width="1" height="1"/><rect x="21" y="3" width="1" height="1"/><rect x="16" y="4" width="10" height="1"/><rect x="15" y="5" width="1" height="1"/><rect x="21" y="5" width="1" height="1"/><rect x="21" y="6" width="1" height="1"/><rect x="15" y="7" width="12" height="1"/><rect x="17" y="9" width="8" height="1"/><rect x="17" y="10" width="1" height="1"/><rect x="24" y="10" width="1" height="1"/><rect x="17" y="11" width="1" height="1"/><rect x="24" y="11" width="1" height="1"/><rect x="17" y="12" width="8" height="1"/><rect x="29" y="6" width="1" height="1"/><rect x="29" y="11" width="1" height="1"/></svg>
<div class="abs" style="left:38px;top:3px;font:bold 11px/12px 'Liberation Mono',monospace;color:#000;white-space:nowrap;transform:scaleX(0.909);transform-origin:0 0">Applet</div>
<svg class="abs" style="left:0;top:0" width="110" height="18" shape-rendering="crispEdges" fill="#000"><rect x="86" y="2" width="1" height="1"/><rect x="81" y="3" width="11" height="1"/><rect x="81" y="4" width="1" height="1"/><rect x="85" y="4" width="1" height="1"/><rect x="87" y="4" width="1" height="1"/><rect x="91" y="4" width="1" height="1"/><rect x="84" y="5" width="1" height="1"/><rect x="88" y="5" width="1" height="1"/><rect x="83" y="6" width="1" height="1"/><rect x="89" y="6" width="1" height="1"/><rect x="82" y="7" width="9" height="1"/><rect x="82" y="8" width="1" height="1"/><rect x="85" y="8" width="1" height="1"/><rect x="90" y="8" width="1" height="1"/><rect x="82" y="9" width="1" height="1"/><rect x="84" y="9" width="4" height="1"/><rect x="90" y="9" width="1" height="1"/><rect x="82" y="10" width="1" height="1"/><rect x="84" y="10" width="1" height="1"/><rect x="87" y="10" width="1" height="1"/><rect x="90" y="10" width="1" height="1"/><rect x="82" y="11" width="1" height="1"/><rect x="85" y="11" width="2" height="1"/><rect x="88" y="11" width="1" height="1"/><rect x="90" y="11" width="1" height="1"/><rect x="82" y="12" width="9" height="1"/><rect x="93" y="2" width="10" height="1"/><rect x="93" y="3" width="1" height="1"/><rect x="102" y="3" width="1" height="1"/><rect x="93" y="4" width="1" height="1"/><rect x="102" y="4" width="1" height="1"/><rect x="93" y="5" width="1" height="1"/><rect x="102" y="5" width="1" height="1"/><rect x="93" y="6" width="1" height="1"/><rect x="102" y="6" width="1" height="1"/><rect x="93" y="7" width="1" height="1"/><rect x="102" y="7" width="1" height="1"/><rect x="93" y="8" width="1" height="1"/><rect x="102" y="8" width="1" height="1"/><rect x="93" y="9" width="1" height="1"/><rect x="102" y="9" width="1" height="1"/><rect x="93" y="10" width="1" height="1"/><rect x="102" y="10" width="1" height="1"/><rect x="93" y="11" width="1" height="1"/><rect x="102" y="11" width="1" height="1"/><rect x="93" y="12" width="10" height="1"/></svg>
</div>
<div id="task"><div class="abs" style="left:0;top:0;width:94px;height:4px;background:linear-gradient(to bottom,#4a9a4a,#58b058)"></div><div class="abs" style="left:840px;top:0;width:184px;height:4px;background:#1898ee"></div></div>
</body></html>
